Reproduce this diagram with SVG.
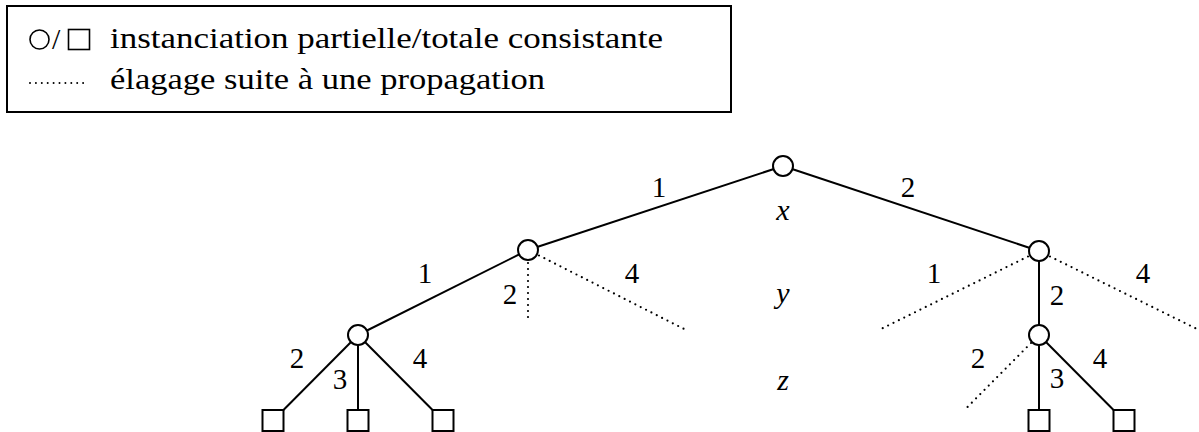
<svg xmlns="http://www.w3.org/2000/svg" width="1199" height="432" viewBox="0 0 1199 432">
<style>
.lbl{font-family:'Liberation Serif',serif;font-size:29px;fill:#000;text-anchor:middle}
.var{font-family:'Liberation Serif',serif;font-size:30px;font-style:italic;fill:#000;text-anchor:middle}
.leg{font-family:'Liberation Serif',serif;font-size:30px;fill:#000}
.edge{stroke:#000;stroke-width:2;fill:none}
.pruned{stroke:#000;stroke-width:2.2;fill:none;stroke-dasharray:0 6;stroke-linecap:round}
.node{fill:#fff;stroke:#000;stroke-width:2}
</style>
<rect width="1199" height="432" fill="#fff"/>
<g id="legend">
<rect x="7" y="6" width="724" height="106" fill="none" stroke="#000" stroke-width="2"/>
<circle cx="39.5" cy="39.5" r="9.5" fill="none" stroke="#000" stroke-width="1.6"/>
<text class="leg" x="52" y="49">/</text>
<rect x="68.5" y="29.5" width="21" height="20" fill="none" stroke="#000" stroke-width="1.6"/>
<text class="leg" x="110" y="48" textLength="553" lengthAdjust="spacingAndGlyphs">instanciation partielle/totale consistante</text>
<line x1="30" y1="83" x2="89" y2="83" stroke="#000" stroke-width="2" stroke-dasharray="0 5.9" stroke-linecap="round"/>
<text class="leg" x="110" y="89" textLength="435" lengthAdjust="spacingAndGlyphs">élagage suite à une propagation</text>
</g>
<g id="connectors">
<line class="edge" x1="783" y1="166" x2="528" y2="250"/>
<line class="edge" x1="783" y1="166" x2="1039" y2="251"/>
<line class="edge" x1="528" y1="250" x2="358" y2="335"/>
<line class="pruned" x1="528" y1="263" x2="528" y2="322"/>
<line class="pruned" x1="539" y1="255.5" x2="688" y2="331"/>
<line class="edge" x1="1039" y1="251" x2="1039" y2="335"/>
<line class="pruned" x1="1028" y1="256.5" x2="878" y2="330.5"/>
<line class="pruned" x1="1050" y1="256.5" x2="1199" y2="330"/>
<line class="edge" x1="358" y1="335" x2="273" y2="420.5"/>
<line class="edge" x1="358" y1="335" x2="358" y2="420.5"/>
<line class="edge" x1="358" y1="335" x2="443" y2="420.5"/>
<line class="pruned" x1="1031" y1="343" x2="967" y2="407.5"/>
<line class="edge" x1="1039" y1="335" x2="1039" y2="420.5"/>
<line class="edge" x1="1039" y1="335" x2="1124" y2="420.5"/>
</g>
<g id="edge-labels">
<text class="lbl" x="659" y="197">1</text>
<text class="lbl" x="908" y="197">2</text>
<text class="lbl" x="425" y="283">1</text>
<text class="lbl" x="510" y="304">2</text>
<text class="lbl" x="632" y="283">4</text>
<text class="lbl" x="934" y="283">1</text>
<text class="lbl" x="1057" y="305">2</text>
<text class="lbl" x="1143" y="283">4</text>
<text class="lbl" x="297" y="368">2</text>
<text class="lbl" x="340" y="389">3</text>
<text class="lbl" x="420" y="368">4</text>
<text class="lbl" x="978" y="368">2</text>
<text class="lbl" x="1057" y="388">3</text>
<text class="lbl" x="1100" y="368">4</text>
</g>
<g id="level-labels">
<text class="var" x="783" y="220">x</text>
<text class="var" x="783" y="303">y</text>
<text class="var" x="783" y="390">z</text>
</g>
<g id="n-root"><circle class="node" cx="783" cy="166" r="10"/></g>
<g id="n-x1"><circle class="node" cx="528" cy="250" r="10"/></g>
<g id="n-x2"><circle class="node" cx="1039" cy="251" r="10"/></g>
<g id="n-x1y1"><circle class="node" cx="358" cy="335" r="10"/></g>
<g id="n-x2y2"><circle class="node" cx="1039" cy="335" r="10"/></g>
<g id="n-112"><rect class="node" x="262.5" y="410" width="21" height="21"/></g>
<g id="n-113"><rect class="node" x="347.5" y="410" width="21" height="21"/></g>
<g id="n-114"><rect class="node" x="432.5" y="410" width="21" height="21"/></g>
<g id="n-223"><rect class="node" x="1028.5" y="410" width="21" height="21"/></g>
<g id="n-224"><rect class="node" x="1113.5" y="410" width="21" height="21"/></g>
</svg>
